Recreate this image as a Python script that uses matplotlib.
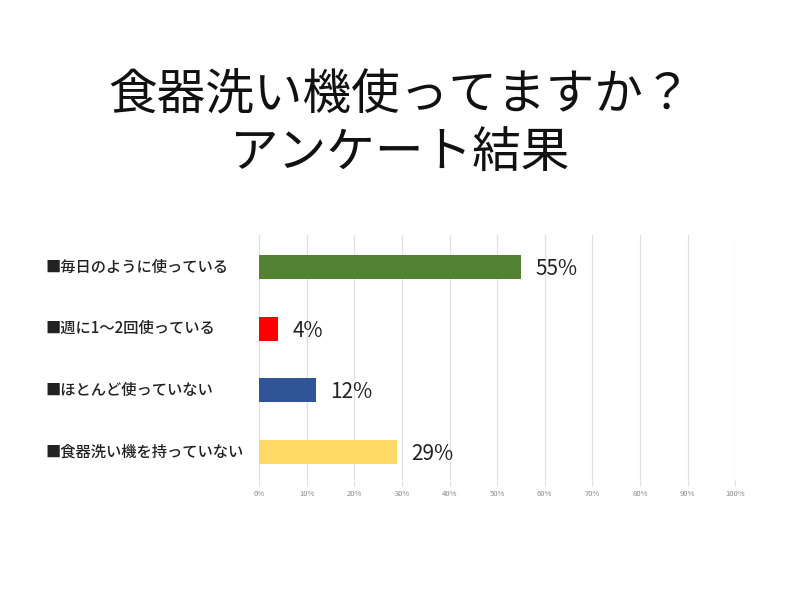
import matplotlib
matplotlib.use("Agg")
import matplotlib.pyplot as plt

plt.rcParams['font.family'] = ['Noto Sans CJK JP', 'DejaVu Sans']

title = "食器洗い機使ってますか？\nアンケート結果"
categories = ["■毎日のように使っている", "■週に1～2回使っている", "■ほとんど使っていない", "■食器洗い機を持っていない"]
values = [55, 4, 12, 29]
colors = ["#548235", "#FF0000", "#2F5597", "#FFD966"]
ticks = list(range(0, 101, 10))
tick_labels = [f"{t}%" for t in ticks]

fig = plt.figure(figsize=(8, 6), dpi=100)
fig.patch.set_facecolor("white")
ax = fig.add_axes([0.324, 0.2, 0.595, 0.408])

ypos = list(range(len(categories)))
ax.barh(ypos, values, height=0.39, color=colors, zorder=3)
for y, v in zip(ypos, values):
    ax.text(v + 3.0, y + 0.03, f"{v}%", va="center", ha="left", fontsize=15, color="#222222", zorder=4)

ax.set_xlim(0, 100)
ax.set_ylim(3.46, -0.52)
ax.set_xticks(ticks)
ax.set_xticklabels(tick_labels, fontsize=5.5, color="#888888")
ax.set_yticks([])
ax.grid(axis="x", color="#E0E0E0", linewidth=0.9, zorder=0)
ax.tick_params(axis="x", length=4, color="#E0E0E0", pad=3)
for s in ax.spines.values():
    s.set_visible(False)

for y, c in zip(ypos, categories):
    ax.text(-45, y, c, ha="left", va="center", fontsize=11, color="#222222",
            fontweight="medium", transform=ax.transData, clip_on=False)

fig.text(0.5, 0.793, title, ha="center", va="center", fontsize=35, color="#111111", linespacing=1.25)

fig.savefig("out.png", dpi=100)
